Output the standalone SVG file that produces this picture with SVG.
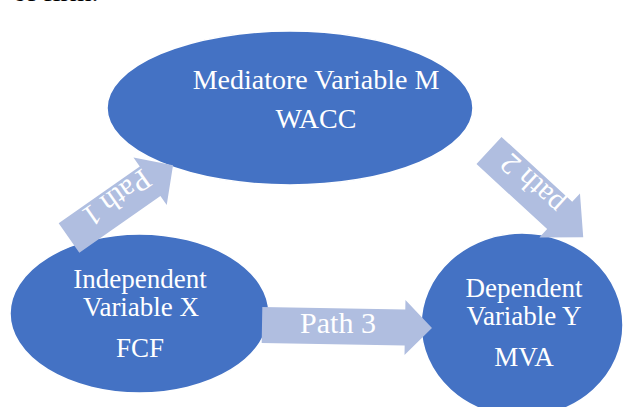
<svg xmlns="http://www.w3.org/2000/svg" width="624" height="407" viewBox="0 0 624 407">
<style>
.node{fill:#4472C4;stroke:#FFFFFF;stroke-width:1.5}
.arrow{fill:#B0BEE0;stroke:none}
text{font-family:'Liberation Serif','Times New Roman','DejaVu Serif',serif}
.t{fill:#FFFFFF;text-anchor:middle}
.n{font-size:27px}
.p{font-size:30px}
.body{fill:#000000;font-size:28px}
</style>
<rect width="624" height="407" fill="#FFFFFF"/>
<text class="body" x="13" y="0.5">of firm.</text>
<g id="node-mediator">
<ellipse class="node" cx="290" cy="108" rx="183" ry="77"/>
<text class="t" x="316" y="89" font-size="28">Mediatore Variable M</text>
<text class="t" x="316" y="128" font-size="28">WACC</text>
</g>
<g id="node-independent">
<ellipse class="node" cx="139.5" cy="313.5" rx="129.5" ry="79.5"/>
<text class="t n" x="140" y="288">Independent</text>
<text class="t n" x="141" y="316">Variable X</text>
<text class="t n" x="140" y="357">FCF</text>
</g>
<g id="node-dependent">
<ellipse class="node" cx="522" cy="325" rx="101" ry="92"/>
<text class="t n" x="524" y="297">Dependent</text>
<text class="t n" x="524" y="325">Variable Y</text>
<text class="t n" x="524" y="366">MVA</text>
</g>
<g id="connectors">
<g id="path1">
<path class="arrow" transform="translate(69,238) rotate(-35)" d="M0,-18 L99,-18 L99,-29 L127,0 L99,29 L99,18 L0,18 Z"/>
<text class="t p" transform="translate(117,198) rotate(145)" y="10">Path 1</text>
</g>
<g id="path2">
<path class="arrow" transform="translate(489,150.5) rotate(42.6)" d="M0,-18.5 L96,-18.5 L96,-30 L128,0 L96,30 L96,18.5 L0,18.5 Z"/>
<text class="t p" transform="translate(532,184) rotate(222.6)" y="10">path 2</text>
</g>
<g id="path3">
<path class="arrow" transform="translate(262,325) rotate(1)" d="M0,-18 L143,-18 L143,-27.5 L170,0 L143,27.5 L143,18 L0,18 Z"/>
<text class="t p" x="338" y="333">Path 3</text>
</g>
</g>
</svg>
